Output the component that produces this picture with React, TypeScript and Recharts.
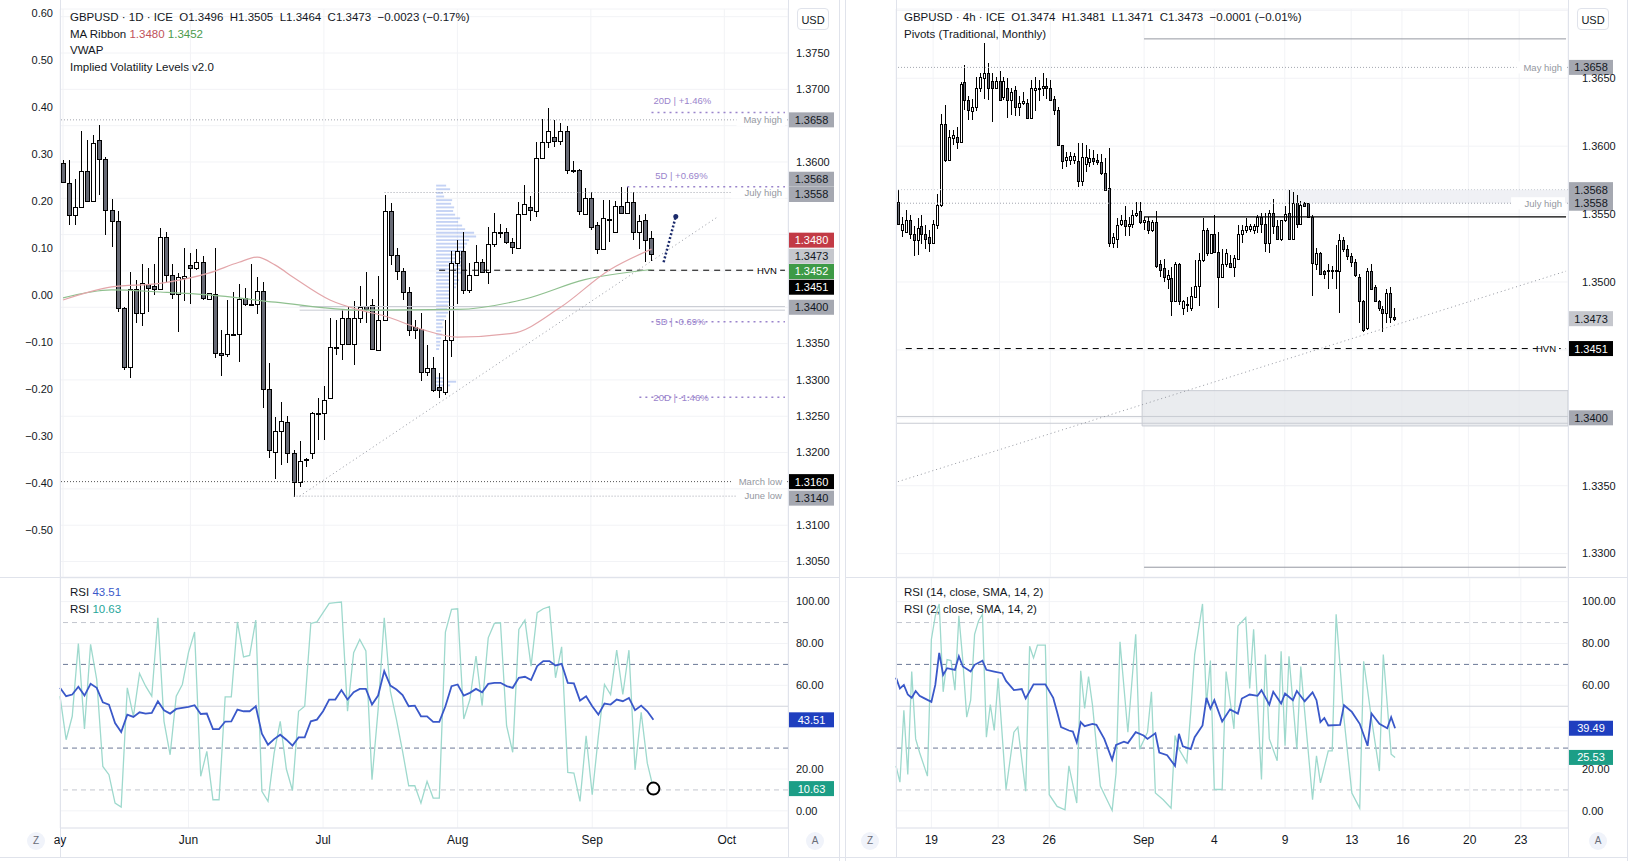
import React from 'react';
import {
  ComposedChart,
  Bar,
  Line,
  XAxis,
  YAxis,
  CartesianGrid,
  ReferenceLine,
  ReferenceArea,
  ReferenceDot,
} from 'recharts';

const FONT = "'Liberation Sans', Arial, sans-serif";
const TEXT = '#131722';
const BORDER = '#e0e3eb';

// ---------- GBPUSD daily (left) : [open, high, low, close] ----------
const dailyOHLC: number[][] = [
  [1.3598, 1.3603, 1.3571, 1.3573], [1.3571, 1.3603, 1.3513, 1.3527], [1.3527, 1.3577, 1.3513, 1.3538],
  [1.3538, 1.3642, 1.3538, 1.3588], [1.3588, 1.363, 1.3546, 1.3546], [1.3546, 1.3637, 1.3546, 1.3626],
  [1.363, 1.3651, 1.3555, 1.3604], [1.3604, 1.3607, 1.35, 1.3534], [1.3534, 1.3549, 1.3483, 1.3519],
  [1.3519, 1.3532, 1.3394, 1.3399], [1.3399, 1.3401, 1.3314, 1.3318], [1.3318, 1.3448, 1.3302, 1.3425],
  [1.3425, 1.3437, 1.3378, 1.3392], [1.3392, 1.346, 1.3374, 1.3433], [1.3432, 1.3454, 1.3393, 1.3427],
  [1.3429, 1.346, 1.3417, 1.3425], [1.3425, 1.3509, 1.3425, 1.3497], [1.3497, 1.3503, 1.3434, 1.3445],
  [1.3445, 1.346, 1.3412, 1.3418], [1.3418, 1.3447, 1.3366, 1.3441], [1.344, 1.3482, 1.3408, 1.3443],
  [1.3458, 1.3475, 1.3405, 1.3454], [1.3454, 1.348, 1.3451, 1.3463], [1.3462, 1.3471, 1.341, 1.3413],
  [1.3412, 1.342, 1.3411, 1.3419], [1.3418, 1.3481, 1.333, 1.3337], [1.3337, 1.3369, 1.3305, 1.3334],
  [1.3335, 1.341, 1.3332, 1.3363], [1.3362, 1.3421, 1.3362, 1.3363], [1.3363, 1.3432, 1.3324, 1.3411],
  [1.3413, 1.3426, 1.3402, 1.3404], [1.3405, 1.346, 1.3404, 1.3405], [1.3405, 1.3442, 1.3391, 1.3423],
  [1.3422, 1.3435, 1.3262, 1.3288], [1.3288, 1.3323, 1.3192, 1.3204], [1.3201, 1.3249, 1.3163, 1.323],
  [1.323, 1.327, 1.3183, 1.3244], [1.3242, 1.325, 1.3185, 1.3199], [1.3199, 1.3204, 1.3139, 1.316],
  [1.3159, 1.3216, 1.3152, 1.3189], [1.319, 1.3192, 1.318, 1.3191], [1.3199, 1.3256, 1.3191, 1.3254],
  [1.3253, 1.3275, 1.3217, 1.3255], [1.3255, 1.3291, 1.3217, 1.3273], [1.3275, 1.3385, 1.3275, 1.3345],
  [1.3345, 1.3382, 1.3334, 1.3346], [1.3349, 1.3397, 1.3328, 1.3385], [1.3385, 1.3401, 1.3348, 1.3349],
  [1.3349, 1.3408, 1.3321, 1.3385], [1.3385, 1.3429, 1.3379, 1.34], [1.3402, 1.3449, 1.3378, 1.3398],
  [1.3403, 1.3411, 1.3341, 1.3342], [1.3341, 1.3443, 1.3341, 1.3383], [1.3383, 1.3555, 1.3383, 1.3533],
  [1.3533, 1.3543, 1.3458, 1.3472], [1.3472, 1.3481, 1.3438, 1.345], [1.345, 1.3454, 1.341, 1.3421],
  [1.3421, 1.3428, 1.336, 1.3369], [1.3373, 1.3383, 1.3357, 1.3369], [1.337, 1.3392, 1.3298, 1.3311],
  [1.3311, 1.3348, 1.3305, 1.3317], [1.3317, 1.3332, 1.3284, 1.3286], [1.329, 1.3309, 1.3275, 1.3286],
  [1.3284, 1.3383, 1.3279, 1.3355], [1.3355, 1.3477, 1.3332, 1.3461], [1.3461, 1.3493, 1.3405, 1.3478],
  [1.3478, 1.3504, 1.3418, 1.3424], [1.3424, 1.3461, 1.3419, 1.3444], [1.3444, 1.3486, 1.3443, 1.3463],
  [1.3463, 1.3467, 1.3447, 1.3449], [1.3449, 1.351, 1.3432, 1.3487], [1.3487, 1.353, 1.3483, 1.3504],
  [1.3504, 1.3515, 1.3495, 1.3503], [1.3504, 1.3509, 1.3487, 1.349], [1.349, 1.3495, 1.3474, 1.3483],
  [1.3482, 1.3545, 1.3482, 1.3528], [1.3528, 1.3569, 1.3527, 1.3542], [1.3538, 1.3553, 1.3519, 1.3534],
  [1.3533, 1.3628, 1.3524, 1.3605], [1.3605, 1.3659, 1.3605, 1.3628], [1.3628, 1.3675, 1.3619, 1.3643],
  [1.3634, 1.3658, 1.362, 1.3629], [1.3629, 1.3653, 1.3623, 1.3643], [1.3643, 1.3649, 1.3584, 1.3589],
  [1.3589, 1.3602, 1.3585, 1.3587], [1.3589, 1.359, 1.3527, 1.3532], [1.3529, 1.3564, 1.3528, 1.355],
  [1.355, 1.3559, 1.3506, 1.3511], [1.3513, 1.3518, 1.3474, 1.348], [1.348, 1.3547, 1.3479, 1.3523],
  [1.3521, 1.3547, 1.349, 1.352], [1.3503, 1.3546, 1.3502, 1.354], [1.354, 1.3566, 1.353, 1.353],
  [1.353, 1.3566, 1.3529, 1.3545], [1.3545, 1.3559, 1.3493, 1.3504], [1.3504, 1.3527, 1.348, 1.3519],
  [1.352, 1.3528, 1.3463, 1.3493], [1.3496, 1.3505, 1.3464, 1.3473],
];

// MA ribbon, read at a few bars: [bar index, value]
const maFastPts: number[][] = [
  [0, 1.341], [8, 1.3428], [16, 1.3433], [24, 1.3447], [29, 1.3462], [32, 1.3469], [35, 1.3458],
  [38, 1.3441], [44, 1.341], [49, 1.3396], [53, 1.3388], [59, 1.337], [65, 1.3359], [74, 1.3364],
  [82, 1.34], [90, 1.3451], [97, 1.348],
];
const maSlowPts: number[][] = [
  [0, 1.3413], [8, 1.3424], [16, 1.3421], [24, 1.3417], [35, 1.3407], [49, 1.3396], [65, 1.3397],
  [76, 1.3411], [86, 1.3438], [97, 1.3452],
];

// visible-range volume profile: top price of each 0.0005 bin and its relative volume
const vpTop = [
  1.357, 1.3565, 1.356, 1.3555, 1.355, 1.3545, 1.354, 1.3535, 1.353, 1.3525, 1.352, 1.3515, 1.351, 1.3505, 1.35,
  1.3495, 1.349, 1.3485, 1.348, 1.3475, 1.347, 1.3465, 1.346, 1.3455, 1.345, 1.3445, 1.344, 1.3435, 1.343, 1.3425,
  1.342, 1.3415, 1.341, 1.3405, 1.34, 1.3395, 1.339, 1.3385, 1.338, 1.3375, 1.337, 1.3365, 1.336, 1.3355, 1.335,
  1.3345, 1.3305, 1.33, 1.3295, 1.329,
];
const vpVol = [
  10, 14, 7, 8, 16, 15, 18, 17, 19, 24, 22, 26, 29, 38, 40, 33, 31, 29, 28, 27, 26, 25, 26, 24, 25, 22, 23, 21, 20,
  16, 15, 16, 13, 12, 11, 12, 10, 8, 6, 7, 5, 6, 5, 4, 4, 3, 8, 20, 14, 6,
];

const dailyRsi14 = [
  58.8, 54.8, 55.6, 59.3, 55.1, 60.7, 58.8, 51.9, 50.8, 42.0, 37.7, 46.0, 44.9, 47.1, 46.5, 46.8, 52.4, 48.1, 46.5, 48.7,
  49.2, 49.7, 50.5, 46.3, 46.5, 39.1, 39.1, 42.7, 42.8, 48.4, 47.6, 47.6, 50.0, 36.9, 31.6, 34.3, 36.4, 34.0, 31.2, 35.1,
  35.1, 42.8, 43.6, 47.6, 53.2, 53.2, 57.7, 53.2, 56.7, 58.3, 58.3, 50.8, 55.1, 66.8, 59.9, 58.0, 55.3, 50.0, 50.3, 45.2,
  45.2, 42.5, 42.5, 50.0, 59.6, 60.4, 55.1, 56.4, 58.3, 56.7, 60.7, 61.2, 61.2, 59.6, 58.8, 63.6, 64.1, 62.5, 69.2, 71.6,
  71.6, 69.5, 70.3, 61.2, 60.9, 52.7, 54.8, 50.0, 46.0, 51.3, 50.8, 53.2, 52.4, 54.0, 48.1, 50.3, 47.6, 43.51,
];
const dailyRsi2 = [
  54.8, 34.0, 45.2, 80.0, 39.1, 79.6, 62.8, 21.2, 17.3, 3.7, 1.8, 58.8, 45.2, 65.7, 59.6, 54.8, 92.3, 42.8, 26.8, 54.8,
  60.4, 75.6, 85.5, 16.5, 28.4, 5.3, 5.3, 54.5, 54.5, 90.3, 73.6, 74.3, 91.2, 9.3, 4.5, 27.6, 42.8, 20.0, 9.7, 47.6,
  50.0, 89.6, 90.3, 94.7, 99.2, 99.5, 99.8, 47.6, 75.6, 81.9, 76.4, 14.9, 48.4, 92.3, 57.2, 43.6, 28.4, 12.0, 12.0, 3.7,
  14.1, 6.1, 6.1, 85.5, 96.3, 96.6, 43.9, 53.2, 74.0, 50.3, 82.7, 89.6, 89.9, 40.7, 28.0, 86.7, 91.2, 69.2, 94.7, 96.6,
  97.6, 63.6, 78.4, 18.4, 18.1, 4.5, 35.9, 7.7, 35.6, 60.4, 55.6, 76.8, 55.6, 76.8, 19.6, 47.1, 22.8, 10.63,
];

const dailyMonthTicks: [number, string][] = [[0, 'ay'], [21, 'Jun'], [43, 'Jul'], [65, 'Aug'], [87, 'Sep'], [109, 'Oct']];
const dailyPriceTicks = [1.305, 1.31, 1.315, 1.32, 1.325, 1.33, 1.335, 1.34, 1.345, 1.35, 1.355, 1.36, 1.365, 1.37, 1.375, 1.38];
const dailyHiddenTicks = [1.315, 1.34, 1.345, 1.35, 1.355, 1.365, 1.38];
const dailyPctTicks = [0.6, 0.5, 0.4, 0.3, 0.2, 0.1, 0, -0.1, -0.2, -0.3, -0.4, -0.5];

// ---------- GBPUSD 4h (right) : [open, high, low, close] ----------
const h4OHLC: number[][] = [
  [1.3559, 1.3568, 1.3543, 1.3543], [1.3538, 1.3548, 1.3533, 1.3543], [1.3537, 1.3553, 1.3536, 1.3546],
  [1.3546, 1.3549, 1.3532, 1.3535], [1.3535, 1.3541, 1.3519, 1.3531], [1.3531, 1.3547, 1.352, 1.354],
  [1.3541, 1.3549, 1.3528, 1.3535], [1.3535, 1.3542, 1.3524, 1.3532], [1.3533, 1.3538, 1.3522, 1.3529],
  [1.3529, 1.3546, 1.3528, 1.3543], [1.3542, 1.3565, 1.3539, 1.3557], [1.3557, 1.3624, 1.3555, 1.3616],
  [1.3616, 1.363, 1.3588, 1.359], [1.359, 1.3612, 1.3589, 1.3607], [1.3606, 1.3612, 1.3601, 1.3608],
  [1.3607, 1.3614, 1.3598, 1.3603], [1.3603, 1.3647, 1.3603, 1.3646], [1.3647, 1.366, 1.3627, 1.3634],
  [1.3634, 1.3637, 1.3619, 1.3627], [1.3626, 1.3635, 1.3619, 1.3629], [1.3629, 1.3651, 1.3626, 1.3643],
  [1.3643, 1.3654, 1.364, 1.3651], [1.365, 1.3676, 1.3635, 1.3654], [1.3654, 1.3661, 1.3634, 1.3643],
  [1.3648, 1.3654, 1.3618, 1.3643], [1.3643, 1.3651, 1.3642, 1.3648], [1.3648, 1.3655, 1.3633, 1.3634],
  [1.3636, 1.3651, 1.3634, 1.3648], [1.3643, 1.365, 1.3621, 1.3634], [1.3634, 1.3643, 1.3623, 1.364],
  [1.3641, 1.3644, 1.3622, 1.3629], [1.3629, 1.3637, 1.3622, 1.3632], [1.3632, 1.364, 1.363, 1.3633],
  [1.3632, 1.3635, 1.3621, 1.3621], [1.3621, 1.3649, 1.3621, 1.3643], [1.3641, 1.3651, 1.3626, 1.3643],
  [1.3642, 1.3649, 1.3633, 1.3643], [1.3643, 1.3654, 1.3637, 1.3644], [1.3644, 1.365, 1.3635, 1.3643],
  [1.3643, 1.3649, 1.3633, 1.3634], [1.3635, 1.3637, 1.3623, 1.3627], [1.3627, 1.3629, 1.3601, 1.3601],
  [1.3601, 1.3601, 1.3583, 1.3589], [1.359, 1.3596, 1.3585, 1.3592], [1.359, 1.3596, 1.3586, 1.3593],
  [1.359, 1.3595, 1.3587, 1.3593], [1.3589, 1.3602, 1.357, 1.3574], [1.3574, 1.3602, 1.3571, 1.3592],
  [1.3587, 1.3601, 1.3581, 1.3592], [1.3588, 1.3598, 1.3585, 1.3591], [1.3591, 1.3597, 1.3586, 1.3589],
  [1.359, 1.3594, 1.3586, 1.3588], [1.3588, 1.3594, 1.3579, 1.358], [1.358, 1.3591, 1.3568, 1.3568],
  [1.3569, 1.3599, 1.3526, 1.3529], [1.3529, 1.3536, 1.3525, 1.3533], [1.3532, 1.3547, 1.3525, 1.3542],
  [1.3543, 1.3549, 1.3541, 1.3546], [1.3546, 1.3556, 1.3534, 1.3541], [1.3541, 1.3548, 1.3534, 1.3543],
  [1.3543, 1.3553, 1.354, 1.3549], [1.3549, 1.3559, 1.3548, 1.3551], [1.3552, 1.3559, 1.3543, 1.3544],
  [1.3544, 1.3548, 1.3538, 1.3546], [1.3545, 1.3548, 1.3535, 1.3538], [1.3538, 1.3546, 1.3537, 1.3544],
  [1.3544, 1.3552, 1.351, 1.3512], [1.3513, 1.3516, 1.3504, 1.3509], [1.351, 1.3517, 1.35, 1.3504],
  [1.3502, 1.3509, 1.3495, 1.3505], [1.3503, 1.3511, 1.3475, 1.3486], [1.3486, 1.3515, 1.3486, 1.3513],
  [1.3513, 1.3514, 1.3483, 1.3486], [1.3481, 1.3487, 1.3476, 1.3486], [1.3484, 1.3489, 1.3478, 1.3483],
  [1.3481, 1.3496, 1.3479, 1.349], [1.3489, 1.3516, 1.3489, 1.3497], [1.3497, 1.3521, 1.3482, 1.3516],
  [1.3516, 1.3547, 1.3515, 1.3538], [1.3538, 1.354, 1.3519, 1.3521], [1.3521, 1.3535, 1.3521, 1.3535],
  [1.3535, 1.3549, 1.3521, 1.3522], [1.3522, 1.3537, 1.3481, 1.3504], [1.3504, 1.3524, 1.3503, 1.3513],
  [1.3513, 1.3524, 1.3511, 1.3521], [1.3514, 1.352, 1.351, 1.3511], [1.3511, 1.352, 1.3504, 1.3518],
  [1.3517, 1.3542, 1.3517, 1.3535], [1.3535, 1.3542, 1.3529, 1.3538], [1.3538, 1.3547, 1.3536, 1.3541],
  [1.3539, 1.3543, 1.3537, 1.3541], [1.3538, 1.3543, 1.3535, 1.3541], [1.3541, 1.3549, 1.3536, 1.3548],
  [1.3548, 1.3551, 1.3536, 1.3543], [1.3543, 1.3551, 1.3522, 1.3529], [1.3529, 1.3553, 1.3521, 1.3551],
  [1.3551, 1.3561, 1.3535, 1.3541], [1.3541, 1.3546, 1.3531, 1.3532], [1.3532, 1.3546, 1.353, 1.3546],
  [1.3546, 1.3556, 1.3544, 1.355], [1.3551, 1.3568, 1.3531, 1.3532], [1.3532, 1.3566, 1.3531, 1.3558],
  [1.3558, 1.3564, 1.354, 1.3543], [1.3543, 1.356, 1.3543, 1.3557], [1.3558, 1.3559, 1.3556, 1.3556],
  [1.3558, 1.3558, 1.3547, 1.3548], [1.3548, 1.3549, 1.349, 1.3514], [1.3513, 1.3525, 1.3509, 1.3521],
  [1.3521, 1.3522, 1.3506, 1.3506], [1.3508, 1.3509, 1.3502, 1.3506], [1.3509, 1.3513, 1.3495, 1.3508],
  [1.3508, 1.3512, 1.3502, 1.3509], [1.3508, 1.3527, 1.3495, 1.3509], [1.3508, 1.3535, 1.3477, 1.3531],
  [1.3531, 1.3533, 1.3522, 1.3524], [1.3524, 1.3527, 1.3516, 1.3519], [1.3519, 1.3521, 1.3511, 1.3515],
  [1.3515, 1.3517, 1.3504, 1.3505], [1.3504, 1.3506, 1.347, 1.3486], [1.3486, 1.3487, 1.3463, 1.3465],
  [1.3466, 1.351, 1.3465, 1.3508], [1.3508, 1.3513, 1.3494, 1.3495], [1.3496, 1.3498, 1.3485, 1.3486],
  [1.3486, 1.3487, 1.3479, 1.3481], [1.348, 1.3482, 1.3463, 1.3477], [1.3477, 1.3495, 1.347, 1.3492],
  [1.3492, 1.3496, 1.347, 1.3474], [1.3474, 1.3481, 1.3471, 1.3473],
];

// 4h RSI lines, read at bars: [bar index, value]
const h4Rsi14Pts: number[][] = [
  [0, 63.7], [1, 58.5], [2, 60.2], [3, 55.6], [4, 54.0], [5, 57.3], [6, 55.0], [7, 54.0], [9, 52.1], [10, 60.2],
  [11, 75.5], [12, 65.0], [13, 68.2], [15, 67.4], [16, 73.9], [17, 69.0], [19, 66.6], [20, 69.8], [22, 71.8],
  [23, 67.4], [25, 66.6], [27, 65.8], [28, 62.1], [30, 57.7], [32, 58.2], [33, 53.7], [35, 60.5], [36, 60.5],
  [38, 60.5], [40, 54.0], [41, 47.3], [42, 40.0], [44, 38.4], [45, 37.9], [46, 32.7], [47, 42.4], [48, 40.5],
  [50, 41.6], [51, 41.1], [53, 34.4], [55, 24.4], [56, 31.5], [58, 33.1], [59, 32.4], [61, 37.6], [63, 36.0],
  [64, 34.4], [66, 37.1], [67, 27.9], [69, 26.6], [71, 21.5], [72, 36.8], [73, 30.8], [75, 29.5], [76, 35.2],
  [78, 40.8], [79, 54.0], [80, 48.9], [81, 52.9], [83, 42.7], [85, 48.5], [87, 46.5], [88, 53.7], [90, 55.6],
  [92, 55.0], [93, 57.7], [95, 50.8], [96, 56.9], [98, 51.3], [99, 56.1], [101, 52.9], [102, 57.3], [104, 52.4],
  [106, 56.6], [107, 52.9], [108, 42.4], [109, 44.4], [110, 40.8], [113, 41.1], [114, 50.5], [116, 47.3],
  [118, 41.6], [120, 31.1], [121, 46.5], [123, 41.6], [125, 39.5], [126, 44.8], [127, 39.49],
];
const h4Rsi2Pts: number[][] = [
  [0, 21.5], [1, 13.7], [2, 48.1], [3, 17.4], [4, 66.6], [5, 34.4], [6, 27.9], [8, 16.6], [9, 81.9], [10, 93.2],
  [11, 98.9], [12, 56.9], [13, 72.3], [14, 71.8], [15, 57.7], [16, 93.2], [17, 71.8], [18, 44.8], [19, 52.9],
  [20, 84.4], [21, 90.8], [22, 94.0], [23, 35.2], [24, 50.8], [25, 38.4], [26, 63.4], [28, 10.2], [30, 37.6],
  [31, 40.0], [33, 9.4], [34, 78.7], [35, 73.1], [36, 79.2], [38, 79.2], [39, 7.7], [41, 2.1], [43, 0.5],
  [44, 21.5], [46, 3.7], [47, 66.9], [48, 48.9], [49, 64.2], [50, 50.5], [52, 11.8], [55, 0.2], [56, 18.2],
  [57, 80.8], [59, 37.6], [61, 84.4], [62, 29.5], [64, 37.6], [65, 56.9], [66, 8.5], [68, 5.3], [70, 1.3],
  [71, 36.0], [72, 29.5], [74, 23.1], [75, 47.3], [76, 74.7], [78, 98.9], [79, 50.8], [80, 71.8], [81, 10.2],
  [83, 10.2], [84, 66.6], [86, 39.2], [87, 88.4], [89, 92.4], [90, 58.5], [91, 86.8], [93, 15.0], [94, 74.7],
  [95, 34.4], [97, 23.9], [98, 76.3], [99, 31.1], [100, 73.9], [102, 29.5], [103, 69.0], [104, 47.3], [106, 5.3],
  [107, 26.3], [108, 13.4], [110, 28.7], [111, 28.7], [112, 94.0], [114, 44.0], [116, 8.5], [118, 1.3],
  [119, 71.5], [121, 44.0], [123, 19.0], [124, 74.7], [126, 27.1], [127, 25.53],
];

const h4DayTicks: [number, string][] = [
  [9, '19'], [26, '23'], [39, '26'], [63, 'Sep'], [81, '4'], [99, '9'], [116, '13'], [129, '16'], [146, '20'], [159, '23'],
];
const h4PriceTicks = [1.33, 1.335, 1.34, 1.345, 1.35, 1.355, 1.36, 1.365, 1.37];
const h4HiddenTicks = [1.34, 1.345, 1.37];
const rsiTicks = [0, 20, 40, 60, 80, 100];

// ---------- tables for recharts ----------
const DAILY_SLOTS = 120;
const H4_SLOTS = 172;
const VP_BIN = 0.0005;
const VP_START = 61.5; // bar position where the profile is anchored
const VP_SCALE = 1 / 6.07; // volume units to bar widths
const ptMap = (pts: number[][]) => new Map(pts.map((p) => [p[0], p[1]] as [number, number]));

const maFastMap = ptMap(maFastPts);
const maSlowMap = ptMap(maSlowPts);
const dailyRows = Array.from({ length: DAILY_SLOTS }, (_, i) => {
  const k = dailyOHLC[i];
  return {
    i,
    range: k ? [k[2], k[1]] : null,
    o: k ? k[0] : null,
    h: k ? k[1] : null,
    l: k ? k[2] : null,
    c: k ? k[3] : null,
    maFast: maFastMap.has(i) ? maFastMap.get(i) : null,
    maSlow: maSlowMap.has(i) ? maSlowMap.get(i) : null,
  };
});
const dailyRsiRows = Array.from({ length: DAILY_SLOTS }, (_, i) => ({
  i,
  r14: i < dailyRsi14.length ? dailyRsi14[i] : null,
  r2: i < dailyRsi2.length ? dailyRsi2[i] : null,
}));

const h4Rsi14Map = ptMap(h4Rsi14Pts);
const h4Rsi2Map = ptMap(h4Rsi2Pts);
const h4Rows = Array.from({ length: H4_SLOTS }, (_, i) => {
  const k = h4OHLC[i];
  return {
    i,
    range: k ? [k[2], k[1]] : null,
    o: k ? k[0] : null,
    h: k ? k[1] : null,
    l: k ? k[2] : null,
    c: k ? k[3] : null,
  };
});
const h4RsiRows = Array.from({ length: H4_SLOTS }, (_, i) => ({
  i,
  r14: h4Rsi14Map.has(i) ? h4Rsi14Map.get(i) : null,
  r2: h4Rsi2Map.has(i) ? h4Rsi2Map.get(i) : null,
}));

const dailyLabel = new Map(dailyMonthTicks);
const h4Label = new Map(h4DayTicks);

// ---------- drawing helpers ----------
const Candle = (props: any) => {
  const { x, y, width, height, payload } = props;
  if (!payload || payload.o == null || !isFinite(y) || !isFinite(height)) return <g />;
  const top = Math.min(y, y + height);
  const h = Math.abs(height);
  const span = payload.h - payload.l;
  const py = (v: number) => (span > 0 ? top + ((payload.h - v) / span) * h : top);
  const up = payload.c >= payload.o;
  const b1 = Math.round(py(Math.max(payload.o, payload.c)));
  const b2 = Math.round(py(Math.min(payload.o, payload.c)));
  const bw = Math.max(1, Math.round(width));
  const bx = Math.round(x) + 0.5;
  const cx = Math.round(x) + bw / 2 + 0.5;
  return (
    <g shapeRendering="crispEdges">
      <line x1={cx} x2={cx} y1={Math.round(top)} y2={Math.round(top + h)} stroke="#000" />
      <rect x={bx} y={b1 + 0.5} width={bw} height={Math.max(1, b2 - b1)} fill={up ? '#fff' : '#676a75'} stroke="#000" />
    </g>
  );
};

const AxisTick = (props: any) => {
  const { x, y, payload, textAnchor, hidden, fmt } = props;
  const v = payload.value;
  if (hidden && hidden.some((h: number) => Math.abs(h - v) < 1e-7)) return <g />;
  return (
    <text x={x} y={y} dy="0.35em" textAnchor={textAnchor} fontSize={11} fill={TEXT} fontFamily={FONT}>
      {fmt(v)}
    </text>
  );
};

const TimeTick = (props: any) => {
  const { x, y, payload, labels } = props;
  return (
    <text x={x} y={y} dy="0.71em" textAnchor="middle" fontSize={12} fill={TEXT} fontFamily={FONT}>
      {labels.get(payload.value)}
    </text>
  );
};

// price tag on the axis, placed from the line's own viewBox
const Tag = (props: any) => {
  const { viewBox, text, bg, color = '#fff', dy = 0, w = 45 } = props;
  if (!viewBox) return null;
  const x = viewBox.x + viewBox.width + 1;
  const y = viewBox.y + dy;
  return (
    <g>
      <rect x={x} y={y - 7.5} width={w} height={15} fill={bg} />
      <text x={x + w / 2} y={y} dy="0.36em" textAnchor="middle" fontSize={11} fill={color} fontFamily={FONT}>
        {text}
      </text>
    </g>
  );
};

const LevelText = (props: any) => {
  const { viewBox, text, color, anchor = 'end', dx = -4, dy = 0, size = 9.5, bg = false } = props;
  if (!viewBox) return null;
  const x = anchor === 'end' ? viewBox.x + viewBox.width + dx : viewBox.x + dx;
  const y = viewBox.y + dy;
  const w = text.length * size * 0.56 + 6;
  return (
    <g>
      {bg && <rect x={anchor === 'end' ? x - w + 3 : x - 3} y={y - 6} width={w} height={12} fill="#fff" />}
      <text x={x} y={y} dy="0.35em" textAnchor={anchor} fontSize={size} fill={color} fontFamily={FONT}>
        {text}
      </text>
    </g>
  );
};

const fmtPrice = (v: number) => v.toFixed(4);
const fmtPct = (v: number) => (v < -1e-9 ? '\u2212' : '') + Math.abs(v).toFixed(2);
const fmtRsi = (v: number) => v.toFixed(2);

const DOT = '#a3a6af';
const PURPLE = '#9a84cc';
const GREY_TAG = '#a5a8b1';

const abs = (left: number, top: number): React.CSSProperties => ({ position: 'absolute', left, top });

const Legend = ({ left, top, lines }: { left: number; top: number; lines: React.ReactNode[] }) => (
  <div style={{ ...abs(left, top), fontSize: 11.5, lineHeight: '16.6px', color: TEXT, whiteSpace: 'pre', pointerEvents: 'none' }}>
    {lines.map((l, k) => (
      <div key={k}>{l}</div>
    ))}
  </div>
);

const RoundBtn = ({ x, y, t }: { x: number; y: number; t: string }) => (
  <div
    style={{
      ...abs(x - 9, y - 9),
      width: 18,
      height: 18,
      borderRadius: 9,
      background: '#f0f3fa',
      color: '#6a6d78',
      fontSize: 10,
      lineHeight: '18px',
      textAlign: 'center',
    }}
  >
    {t}
  </div>
);

const UsdBox = ({ x }: { x: number }) => (
  <div
    style={{
      ...abs(x, 8),
      width: 32,
      height: 22,
      border: `1px solid ${BORDER}`,
      borderRadius: 4,
      background: '#fff',
      fontSize: 11,
      lineHeight: '22px',
      textAlign: 'center',
      color: TEXT,
      boxSizing: 'border-box',
    }}
  >
    USD
  </div>
);

const VLine = ({ x, y1 = 0, y2 = 858 }: { x: number; y1?: number; y2?: number }) => (
  <div style={{ ...abs(x, y1), width: 1, height: y2 - y1, background: BORDER }} />
);
const HLine = ({ y, x1, x2 }: { y: number; x1: number; x2: number }) => (
  <div style={{ ...abs(x1, y), width: x2 - x1, height: 1, background: BORDER }} />
);

const RsiPane = ({ rows, ticks, labels, hidden, lastR14, lastR2, showCursor }: any) => (
  <ComposedChart width={rows === dailyRsiRows ? 839 : 786} height={283} data={rows}
    margin={{ top: 0, right: 0, bottom: 2, left: rows === dailyRsiRows ? 0 : 56 }}>
    <CartesianGrid stroke="#f2f3f6" yAxisId="rsi" />
    <XAxis dataKey="i" type="category" ticks={ticks} interval={0} height={31} tickLine={false} tickSize={0}
      tickMargin={7} axisLine={{ stroke: BORDER }} tick={<TimeTick labels={labels} />} />
    {rows === dailyRsiRows && <YAxis yAxisId="blank" orientation="left" width={60} tick={false} axisLine={false} />}
    <YAxis yAxisId="rsi" orientation="right" width={rows === dailyRsiRows ? 51 : 58} domain={[-8.2, 111.3]}
      allowDataOverflow ticks={rsiTicks} interval={0} axisLine={false} tickLine={false} tickSize={0}
      tickMargin={rows === dailyRsiRows ? 8 : 14} tick={<AxisTick hidden={hidden} fmt={fmtRsi} />} />
    <ReferenceLine yAxisId="rsi" y={90} stroke="#c3c6ce" strokeDasharray="5 4" />
    <ReferenceLine yAxisId="rsi" y={70} stroke="#6b7896" strokeDasharray="5 4" />
    <ReferenceLine yAxisId="rsi" y={50} stroke="#d1d4dc" />
    <ReferenceLine yAxisId="rsi" y={30} stroke="#6b7896" strokeDasharray="5 4" />
    <ReferenceLine yAxisId="rsi" y={10} stroke="#c3c6ce" strokeDasharray="5 4" />
    <Line yAxisId="rsi" dataKey="r2" stroke="#9ed9cd" strokeWidth={1.3} dot={false} activeDot={false}
      connectNulls isAnimationActive={false} />
    <Line yAxisId="rsi" dataKey="r14" stroke="#3a58c9" strokeWidth={1.8} dot={false} activeDot={false}
      connectNulls isAnimationActive={false} />
    {showCursor && (
      <ReferenceDot yAxisId="rsi" x={showCursor[0]} y={showCursor[1]} r={6} fill="#fff" stroke="#000" strokeWidth={2} />
    )}
    <ReferenceLine yAxisId="rsi" y={lastR14} stroke="none"
      label={<Tag text={lastR14.toFixed(2)} bg="#1f3fbf" w={rows === dailyRsiRows ? 45 : 44} />} />
    <ReferenceLine yAxisId="rsi" y={lastR2} stroke="none"
      label={<Tag text={lastR2.toFixed(2)} bg="#1c9e86" w={rows === dailyRsiRows ? 45 : 44} />} />
  </ComposedChart>
);

export default function App() {
  return (
    <div style={{ position: 'absolute', left: 0, top: 0, width: 1632, height: 861, background: '#fff',
      fontFamily: FONT, color: TEXT, overflow: 'hidden' }}>
      {/* ---------------- LEFT : daily ---------------- */}
      <div style={abs(0, 0)}>
        <ComposedChart width={839} height={578} data={dailyRows} margin={{ top: 9, right: 0, bottom: 1, left: 0 }}>
          <CartesianGrid stroke="#f2f3f6" yAxisId="price" />
          <XAxis dataKey="i" type="category" hide ticks={dailyMonthTicks.map((t) => t[0])} interval={0} />
          <XAxis xAxisId="vp" dataKey="i" type="number" domain={[-0.5, 119.5]} hide allowDataOverflow />
          <YAxis yAxisId="pct" orientation="left" width={60} domain={[-0.6005, 0.6096]} allowDataOverflow
            ticks={dailyPctTicks} interval={0} axisLine={false} tickLine={false} tickSize={0} tickMargin={7}
            tick={<AxisTick fmt={fmtPct} />} />
          <YAxis yAxisId="price" orientation="right" width={51} domain={[1.30287, 1.38106]} allowDataOverflow
            ticks={dailyPriceTicks} interval={0} axisLine={false} tickLine={false} tickSize={0} tickMargin={8}
            tick={<AxisTick hidden={dailyHiddenTicks} fmt={fmtPrice} />} />

          {vpTop.map((t, k) => (
            <ReferenceArea key={'vp' + k} xAxisId="vp" yAxisId="price" x1={VP_START}
              x2={VP_START + vpVol[k] * VP_SCALE} y1={t - VP_BIN + 0.00012} y2={t - 0.00012}
              fill="#7d9be6" fillOpacity={0.45} stroke="none" ifOverflow="visible" />
          ))}

          <ReferenceLine yAxisId="price" y={1.3658} stroke={DOT} strokeDasharray="1 2"
            label={<LevelText text="May high" color="#9598a1" dx={-6} bg />} />
          <ReferenceLine yAxisId="price" y={1.316} stroke="#555" strokeDasharray="1 2"
            label={<LevelText text="March low" color="#9598a1" dx={-6} bg />} />
          <ReferenceLine yAxisId="price" segment={[{ x: 38, y: 1.314 }, { x: 119, y: 1.314 }]} stroke={DOT}
            strokeDasharray="1 2" label={<LevelText text="June low" color="#9598a1" dx={-3} bg />} />
          <ReferenceLine yAxisId="price" segment={[{ x: 53, y: 1.3558 }, { x: 119, y: 1.3558 }]} stroke={DOT}
            strokeDasharray="1 2" label={<LevelText text="July high" color="#9598a1" dx={-3} bg />} />
          <ReferenceLine yAxisId="price" segment={[{ x: 39, y: 1.3401 }, { x: 119, y: 1.3401 }]} stroke="#c9ccd3" />
          <ReferenceLine yAxisId="price" segment={[{ x: 39, y: 1.3396 }, { x: 119, y: 1.3396 }]} stroke="#c9ccd3" />

          <ReferenceLine yAxisId="price" segment={[{ x: 97, y: 1.3668 }, { x: 119, y: 1.3668 }]} stroke={PURPLE}
            strokeWidth={1.5} strokeDasharray="2 4"
            label={<LevelText text="20D | +1.46%" color={PURPLE} anchor="start" dx={2} dy={-12} />} />
          <ReferenceLine yAxisId="price" segment={[{ x: 93, y: 1.3566 }, { x: 119, y: 1.3566 }]} stroke={PURPLE}
            strokeWidth={1.5} strokeDasharray="2 4"
            label={<LevelText text="5D | +0.69%" color={PURPLE} anchor="start" dx={28} dy={-11} />} />
          <ReferenceLine yAxisId="price" segment={[{ x: 97, y: 1.338 }, { x: 119, y: 1.338 }]} stroke={PURPLE}
            strokeWidth={1.5} strokeDasharray="2 4"
            label={<LevelText text="5D | -0.69%" color={PURPLE} anchor="start" dx={4} />} />
          <ReferenceLine yAxisId="price" segment={[{ x: 95, y: 1.3276 }, { x: 119, y: 1.3276 }]} stroke={PURPLE}
            strokeWidth={1.5} strokeDasharray="2 4"
            label={<LevelText text="20D | -1.46%" color={PURPLE} anchor="start" dx={14} />} />

          <ReferenceLine yAxisId="price" segment={[{ x: 39, y: 1.314 }, { x: 108, y: 1.3525 }]} stroke="#9598a1"
            strokeDasharray="1 3" />
          <ReferenceLine yAxisId="price" segment={[{ x: 62, y: 1.3451 }, { x: 119, y: 1.3451 }]} stroke="#000"
            strokeDasharray="6 5" label={<LevelText text="HVN" color="#000" dx={-8} bg />} />

          <Line yAxisId="price" dataKey="maSlow" stroke="#8fc08f" strokeWidth={1.2} dot={false} activeDot={false}
            connectNulls type="monotone" isAnimationActive={false} />
          <Line yAxisId="price" dataKey="maFast" stroke="#e3a6aa" strokeWidth={1.2} dot={false} activeDot={false}
            connectNulls type="monotone" isAnimationActive={false} />
          <Bar yAxisId="price" dataKey="range" barSize={4} shape={<Candle />} isAnimationActive={false} />

          <ReferenceLine yAxisId="price" segment={[{ x: 99, y: 1.3462 }, { x: 101, y: 1.3525 }]} stroke="#1b2a6b"
            strokeWidth={2.5} strokeDasharray="2 2" />
          <ReferenceDot yAxisId="price" x={101} y={1.3525} r={2.5} fill="#1b2a6b" stroke="none" />

          <ReferenceLine yAxisId="price" y={1.3658} stroke="none" label={<Tag text="1.3658" bg={GREY_TAG} color={TEXT} />} />
          <ReferenceLine yAxisId="price" y={1.3568} stroke="none" label={<Tag text="1.3568" bg={GREY_TAG} color={TEXT} dy={-6} />} />
          <ReferenceLine yAxisId="price" y={1.3558} stroke="none" label={<Tag text="1.3558" bg={GREY_TAG} color={TEXT} dy={2} />} />
          <ReferenceLine yAxisId="price" y={1.348} stroke="none" label={<Tag text="1.3480" bg="#c23a45" dy={-9} />} />
          <ReferenceLine yAxisId="price" y={1.3473} stroke="none" label={<Tag text="1.3473" bg="#c5c7cd" color={TEXT} dy={2} />} />
          <ReferenceLine yAxisId="price" y={1.3452} stroke="none" label={<Tag text="1.3452" bg="#3d9a46" dy={2} />} />
          <ReferenceLine yAxisId="price" y={1.3451} stroke="none" label={<Tag text="1.3451" bg="#000" dy={17} />} />
          <ReferenceLine yAxisId="price" y={1.34} stroke="none" label={<Tag text="1.3400" bg={GREY_TAG} color={TEXT} />} />
          <ReferenceLine yAxisId="price" y={1.316} stroke="none" label={<Tag text="1.3160" bg="#000" />} />
          <ReferenceLine yAxisId="price" y={1.314} stroke="none" label={<Tag text="1.3140" bg={GREY_TAG} color={TEXT} dy={2} />} />
        </ComposedChart>
      </div>
      <div style={abs(0, 578)}>
        <RsiPane rows={dailyRsiRows} ticks={dailyMonthTicks.map((t) => t[0])} labels={dailyLabel} hidden={[40]}
          lastR14={43.51} lastR2={10.63} showCursor={[97, 10.63]} />
      </div>

      {/* ---------------- RIGHT : 4h ---------------- */}
      <div style={abs(840, 0)}>
        <ComposedChart width={786} height={578} data={h4Rows} margin={{ top: 9, right: 0, bottom: 1, left: 56 }}>
          <CartesianGrid stroke="#f2f3f6" yAxisId="price" />
          <XAxis dataKey="i" type="category" hide ticks={h4DayTicks.map((t) => t[0])} interval={0} />
          <YAxis yAxisId="price" orientation="right" width={58} domain={[1.32828, 1.3701]} allowDataOverflow
            ticks={h4PriceTicks} interval={0} axisLine={false} tickLine={false} tickSize={0} tickMargin={14}
            tick={<AxisTick hidden={h4HiddenTicks} fmt={fmtPrice} />} />

          <ReferenceArea yAxisId="price" x1={100} x2={171} y1={1.3558} y2={1.3568} fill="#eceef2" fillOpacity={0.8}
            stroke="none" />
          <ReferenceArea yAxisId="price" x1={63} x2={171} y1={1.3394} y2={1.342} fill="#e3e5ea" fillOpacity={0.75}
            stroke="#c9ccd3" />
          <ReferenceLine yAxisId="price" y={1.3401} stroke="#c9ccd3" />
          <ReferenceLine yAxisId="price" y={1.3396} stroke="#c9ccd3" />
          <ReferenceLine yAxisId="price" y={1.3658} stroke={DOT} strokeDasharray="1 2"
            label={<LevelText text="May high" color="#9598a1" dx={-6} bg />} />
          <ReferenceLine yAxisId="price" y={1.3558} stroke={DOT} strokeDasharray="1 2"
            label={<LevelText text="July high" color="#9598a1" dx={-6} bg />} />
          <ReferenceLine yAxisId="price" y={1.3568} stroke="#c9ccd3" strokeDasharray="1 2" />
          <ReferenceLine yAxisId="price" segment={[{ x: 63, y: 1.3679 }, { x: 171, y: 1.3679 }]} stroke="#9598a1" />
          <ReferenceLine yAxisId="price" segment={[{ x: 63, y: 1.3548 }, { x: 171, y: 1.3548 }]} stroke="#000"
            strokeWidth={1.2} />
          <ReferenceLine yAxisId="price" segment={[{ x: 63, y: 1.329 }, { x: 171, y: 1.329 }]} stroke="#9598a1" />
          <ReferenceLine yAxisId="price" segment={[{ x: 0, y: 1.3353 }, { x: 171, y: 1.3508 }]} stroke="#9598a1"
            strokeDasharray="1 3" />
          <ReferenceLine yAxisId="price" segment={[{ x: 2, y: 1.3451 }, { x: 171, y: 1.3451 }]} stroke="#000"
            strokeDasharray="6 5" label={<LevelText text="HVN" color="#000" dx={-10} bg />} />

          <Bar yAxisId="price" dataKey="range" barSize={2} shape={<Candle />} isAnimationActive={false} />

          <ReferenceLine yAxisId="price" y={1.3658} stroke="none" label={<Tag text="1.3658" bg={GREY_TAG} color={TEXT} w={44} />} />
          <ReferenceLine yAxisId="price" y={1.3568} stroke="none" label={<Tag text="1.3568" bg={GREY_TAG} color={TEXT} w={44} />} />
          <ReferenceLine yAxisId="price" y={1.3558} stroke="none" label={<Tag text="1.3558" bg={GREY_TAG} color={TEXT} w={44} />} />
          <ReferenceLine yAxisId="price" y={1.3473} stroke="none" label={<Tag text="1.3473" bg="#c5c7cd" color={TEXT} w={44} />} />
          <ReferenceLine yAxisId="price" y={1.3451} stroke="none" label={<Tag text="1.3451" bg="#000" w={44} />} />
          <ReferenceLine yAxisId="price" y={1.34} stroke="none" label={<Tag text="1.3400" bg={GREY_TAG} color={TEXT} w={44} />} />
        </ComposedChart>
      </div>
      <div style={abs(840, 578)}>
        <RsiPane rows={h4RsiRows} ticks={h4DayTicks.map((t) => t[0])} labels={h4Label} hidden={[40]}
          lastR14={39.49} lastR2={25.53} showCursor={null} />
      </div>

      {/* frame lines */}
      <VLine x={60} />
      <VLine x={788} />
      <VLine x={839} y2={861} />
      <VLine x={845} y2={861} />
      <VLine x={896} />
      <VLine x={1568} />
      <VLine x={1627} y2={861} />
      <HLine y={577} x1={0} x2={839} />
      <HLine y={577} x1={845} x2={1627} />
      <HLine y={857} x1={0} x2={1627} />
      <UsdBox x={797} />
      <UsdBox x={1577} />
      <RoundBtn x={36} y={841} t="Z" />
      <RoundBtn x={815} y={841} t="A" />
      <RoundBtn x={870} y={841} t="Z" />
      <RoundBtn x={1598} y={841} t="A" />

      {/* legends */}
      <Legend
        left={70}
        top={9}
        lines={[
          'GBPUSD \u00b7 1D \u00b7 ICE  O1.3496  H1.3505  L1.3464  C1.3473  \u22120.0023 (\u22120.17%)',
          <span>
            MA Ribbon <span style={{ color: '#c0525a' }}>1.3480</span> <span style={{ color: '#4c9a4c' }}>1.3452</span>
          </span>,
          'VWAP',
          'Implied Volatility Levels v2.0',
        ]}
      />
      <Legend
        left={904}
        top={9}
        lines={[
          'GBPUSD \u00b7 4h \u00b7 ICE  O1.3474  H1.3481  L1.3471  C1.3473  \u22120.0001 (\u22120.01%)',
          'Pivots (Traditional, Monthly)',
        ]}
      />
      <Legend
        left={70}
        top={584}
        lines={[
          <span>
            RSI <span style={{ color: '#3a58c9' }}>43.51</span>
          </span>,
          <span>
            RSI <span style={{ color: '#26a69a' }}>10.63</span>
          </span>,
        ]}
      />
      <Legend left={904} top={584} lines={['RSI (14, close, SMA, 14, 2)', 'RSI (2, close, SMA, 14, 2)']} />
    </div>
  );
}
